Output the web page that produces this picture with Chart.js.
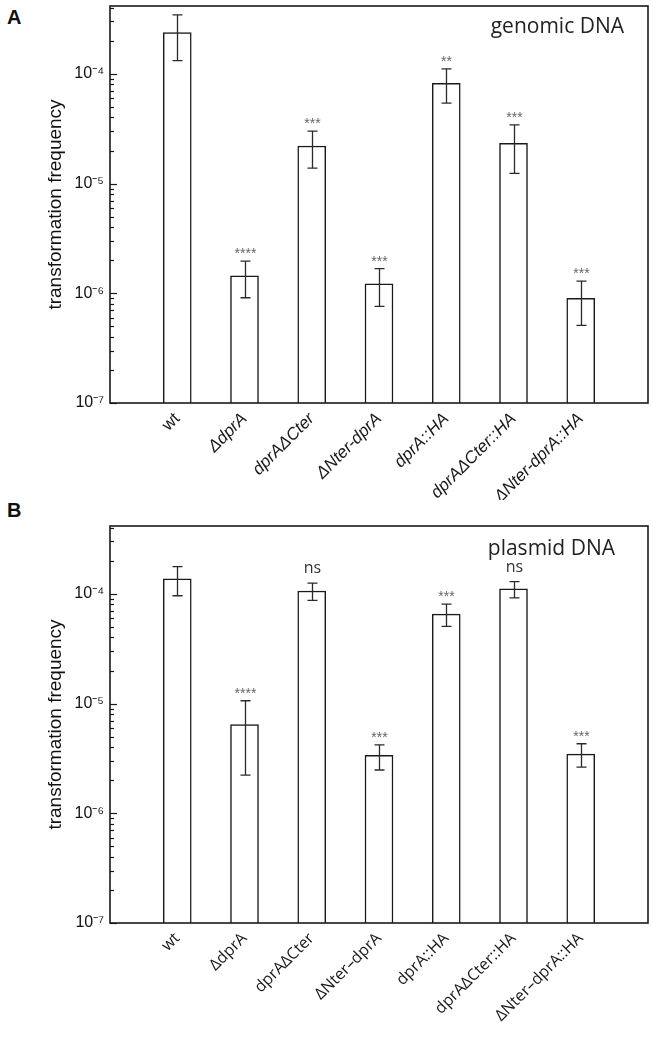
<!DOCTYPE html>
<html>
<head>
<meta charset="utf-8">
<script src="https://cdn.jsdelivr.net/npm/chart.js@4.4.1/dist/chart.umd.min.js"></script>
<style>
  body { margin: 0; background: #fff; width: 653px; height: 1038px; position: relative; overflow: hidden; }
  .panel { position: absolute; left: 0; }
  .tag { position: absolute; left: 7px; font: bold 20px "Liberation Sans", Arial, sans-serif; line-height: 20px; color: #111; }
</style>
</head>
<body>
<div class="tag" style="top:7px">A</div>
<div class="tag" style="top:500px">B</div>
<canvas id="chartA" class="panel" style="top:0" width="653" height="500"></canvas>
<canvas id="chartB" class="panel" style="top:520px" width="653" height="518"></canvas>
<script>
// strains (panel A uses hyphens, panel B en dashes as in the figure)
const strainsA = ['wt', 'ΔdprA', 'dprAΔCter', 'ΔNter-dprA', 'dprA::HA', 'dprAΔCter::HA', 'ΔNter-dprA::HA'];
const strainsB = ['wt', 'ΔdprA', 'dprAΔCter', 'ΔNter–dprA', 'dprA::HA', 'dprAΔCter::HA', 'ΔNter–dprA::HA'];

// A - genomic DNA
const genomicFreq  = [2.38e-4, 1.44e-6, 2.2e-5, 1.22e-6, 8.2e-5, 2.33e-5, 9.0e-7];
const genomicErrHi = [3.45e-4, 1.96e-6, 3.0e-5, 1.68e-6, 1.11e-4, 3.43e-5, 1.29e-6];
const genomicErrLo = [1.32e-4, 9.1e-7, 1.38e-5, 7.6e-7, 5.4e-5, 1.24e-5, 5.1e-7];
const genomicSig   = ['', '****', '***', '***', '**', '***', '***'];

// B - plasmid DNA
const plasmidFreq  = [1.37e-4, 6.44e-6, 1.06e-4, 3.37e-6, 6.53e-5, 1.11e-4, 3.46e-6];
const plasmidErrHi = [1.77e-4, 1.06e-5, 1.25e-4, 4.2e-6, 8.05e-5, 1.29e-4, 4.3e-6];
const plasmidErrLo = [9.6e-5, 2.23e-6, 8.7e-5, 2.48e-6, 5.05e-5, 9.2e-5, 2.63e-6];
const plasmidSig   = ['', '****', 'ns', '***', '***', 'ns', '***'];

const yMin = 1e-7;
const yMax = 4.15e-4;

const SUP = { '-': '⁻', '0': '⁰', '1': '¹', '2': '²', '3': '³', '4': '⁴', '5': '⁵', '6': '⁶', '7': '⁷', '8': '⁸', '9': '⁹' };
function powLabel(v) {
    const e = Math.log10(v);
    if (Math.abs(e - Math.round(e)) > 1e-6) return '';
    return '10' + String(Math.round(e)).split('').map(c => SUP[c]).join('');
}

// frame, inward log ticks, error bars, significance marks, caption
const decorPlugin = {
    id: 'decor',
    afterDatasetsDraw(chart, args, o) {
        const ctx = chart.ctx;
        const ca = chart.chartArea;
        const ys = chart.scales.y;
        const meta = chart.getDatasetMeta(0);
        ctx.save();

        // error bars
        ctx.strokeStyle = '#2a2a2a';
        ctx.lineWidth = 1.3;
        o.hi.forEach((hi, i) => {
            const bar = meta.data[i + 1];
            const x = Math.round(bar.x) + 0.5;
            const yt = ys.getPixelForValue(hi);
            const yb = ys.getPixelForValue(o.lo[i]);
            ctx.beginPath();
            ctx.moveTo(x, yt); ctx.lineTo(x, yb);
            ctx.moveTo(x - 5, yt); ctx.lineTo(x + 5, yt);
            ctx.moveTo(x - 5, yb); ctx.lineTo(x + 5, yb);
            ctx.stroke();

            const s = o.sig[i];
            if (!s) return;
            ctx.textAlign = 'center';
            ctx.textBaseline = 'alphabetic';
            if (s === 'ns') {
                ctx.fillStyle = '#333';
                ctx.font = '16px "Open Sans", sans-serif';
                ctx.fillText(s, x, yt - 10);
            } else {
                ctx.fillStyle = '#666';
                ctx.font = '14px "Liberation Sans", Arial, sans-serif';
                ctx.fillText(s, x, yt - 3);
            }
        });

        // inward ticks on the log axis
        ctx.strokeStyle = '#1a1a1a';
        ctx.lineWidth = 1.2;
        ys.ticks.forEach(t => {
            const e = Math.floor(Math.log10(t.value) + 1e-9);
            const m = t.value / Math.pow(10, e);
            if (Math.abs(m - Math.round(m)) > 1e-6) return;
            const major = Math.abs(m - 1) < 1e-6;
            const py = Math.round(ys.getPixelForValue(t.value)) + 0.5;
            ctx.beginPath();
            ctx.moveTo(ca.left, py);
            ctx.lineTo(ca.left + (major ? 7 : 4), py);
            ctx.stroke();
        });

        // frame
        ctx.lineWidth = 1.6;
        ctx.strokeStyle = '#1a1a1a';
        ctx.strokeRect(ca.left, ca.top, ca.right - ca.left, ca.bottom - ca.top);

        // caption
        ctx.fillStyle = '#222';
        ctx.font = '21px "Open Sans", sans-serif';
        ctx.textAlign = 'right';
        ctx.fillText(o.caption, ca.right - o.capRight, ca.top + o.capTop);
        ctx.restore();
    }
};

function makePanel(id, names, freq, hi, lo, sig, caption, cfg) {
    const labels = [''].concat(names, ['']);
    const data = [null].concat(freq, [null]);
    return new Chart(document.getElementById(id), {
        type: 'bar',
        data: {
            labels: labels,
            datasets: [{
                data: data,
                backgroundColor: '#ffffff',
                borderColor: '#1a1a1a',
                borderWidth: 1.5,
                barThickness: 28
            }]
        },
        options: {
            responsive: false,
            animation: false,
            layout: { padding: { left: 44, right: 5, top: 6, bottom: 0 } },
            plugins: {
                legend: { display: false },
                tooltip: { enabled: false },
                decor: { hi: hi, lo: lo, sig: sig, caption: caption, capRight: cfg.capRight, capTop: cfg.capTop }
            },
            scales: {
                x: {
                    type: 'category',
                    offset: false,
                    grid: { display: false, drawTicks: false },
                    border: { display: false },
                    ticks: {
                        autoSkip: false,
                        maxRotation: 45,
                        minRotation: 45,
                        padding: 6,
                        color: '#1a1a1a',
                        font: c => ({
                            family: cfg.labelFont,
                            size: cfg.labelSize,
                            style: (c.index === 1 || !cfg.italic) ? 'normal' : 'italic'
                        })
                    },
                    afterFit: s => { s.height = cfg.xHeight; s.paddingLeft = 0; s.paddingRight = 0; }
                },
                y: {
                    type: 'logarithmic',
                    min: yMin,
                    max: yMax,
                    grid: { display: false, drawTicks: false },
                    border: { display: false },
                    ticks: {
                        autoSkip: false,
                        padding: 6,
                        color: '#111',
                        font: { family: '"Liberation Sans", Arial, sans-serif', size: 16 },
                        callback: v => powLabel(v)
                    },
                    title: {
                        display: true,
                        text: 'transformation frequency',
                        color: '#111',
                        padding: { top: 0, bottom: 0 },
                        font: { family: '"Liberation Sans", Arial, sans-serif', size: 19 }
                    },
                    afterFit: s => { s.width = 66; s.paddingTop = 0; s.paddingBottom = 0; }
                }
            }
        },
        plugins: [decorPlugin]
    });
}

makePanel('chartA', strainsA, genomicFreq, genomicErrHi, genomicErrLo, genomicSig, 'genomic DNA',
    { xHeight: 97, labelFont: '"Liberation Sans", Arial, sans-serif', labelSize: 17, italic: true, capRight: 24, capTop: 27 });
makePanel('chartB', strainsB, plasmidFreq, plasmidErrHi, plasmidErrLo, plasmidSig, 'plasmid DNA',
    { xHeight: 115, labelFont: '"Open Sans", sans-serif', labelSize: 16, italic: false, capRight: 33, capTop: 29 });
</script>
</body>
</html>
